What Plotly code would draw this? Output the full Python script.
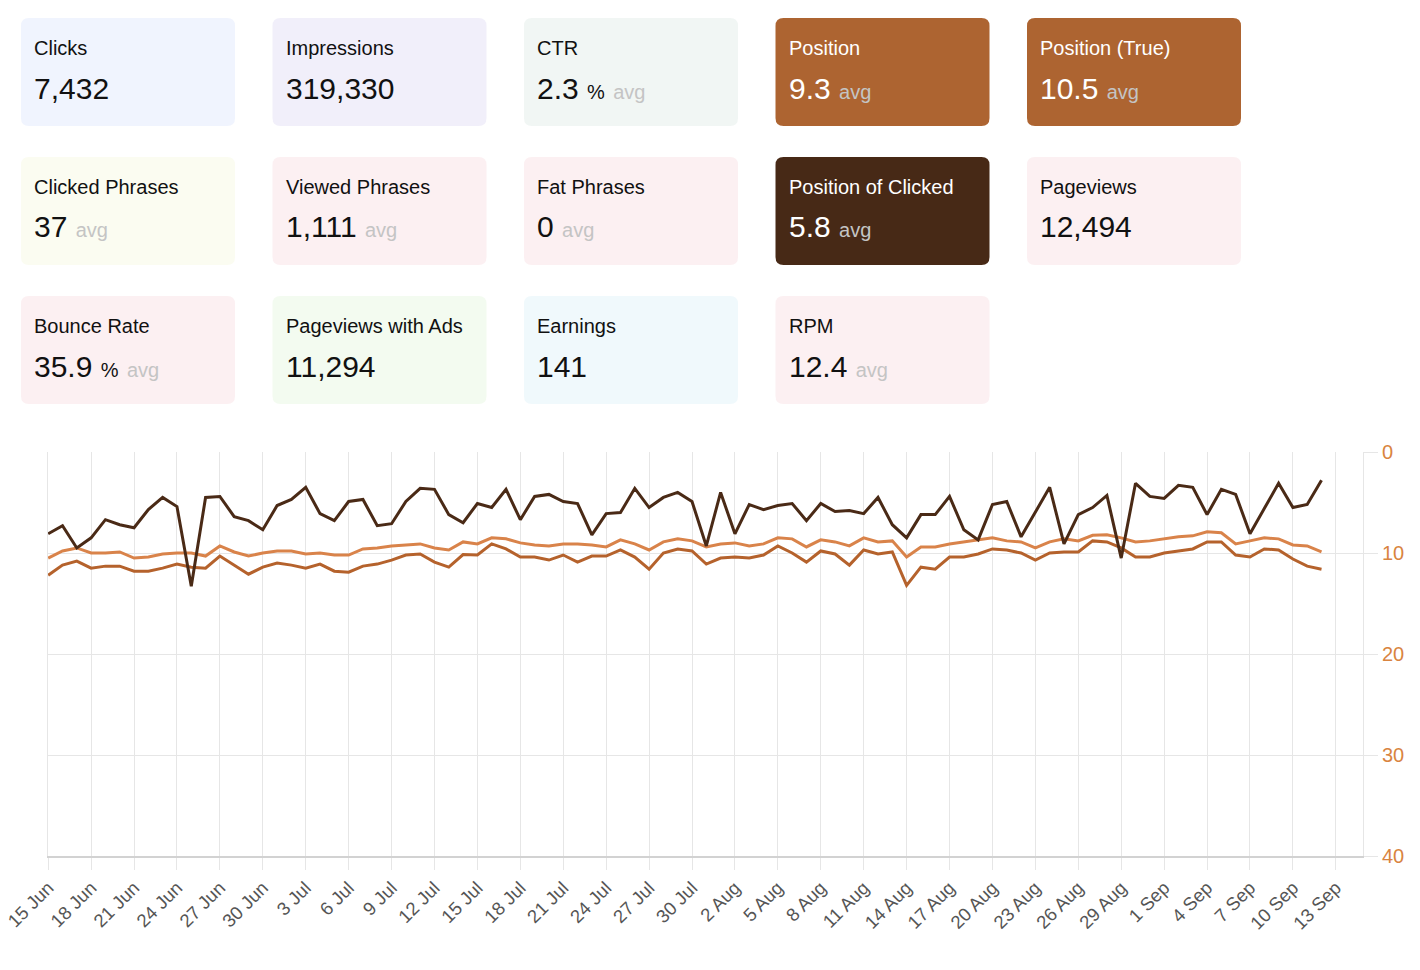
import plotly.graph_objects as go
import pandas as pd

# ---------------- data ----------------
start_date = "2024-06-15"
n_days = 90
position = [10.5, 9.8, 9.5, 10.0, 10.0, 9.9, 10.5, 10.4, 10.1, 10.0,
            10.0, 10.3, 9.3, 9.9, 10.3, 10.0, 9.8, 9.8, 10.1, 10.0,
            10.2, 10.2, 9.6, 9.5, 9.3, 9.2, 9.1, 9.5, 9.7, 8.9,
            9.1, 8.5, 8.6, 9.0, 9.2, 9.3, 9.1, 9.1, 9.2, 9.4,
            8.7, 9.1, 9.7, 8.9, 8.6, 8.8, 9.4, 9.1, 9.0, 9.3,
            9.1, 8.5, 8.6, 9.4, 8.7, 8.9, 9.3, 8.5, 8.9, 8.8,
            10.4, 9.4, 9.4, 9.1, 8.9, 8.7, 8.5, 8.8, 8.9, 9.5,
            8.9, 8.6, 8.8, 8.25, 8.2, 8.5, 8.9, 8.8, 8.6, 8.4,
            8.3, 7.9, 8.0, 9.1, 8.8, 8.5, 8.6, 9.2, 9.3, 9.9]
position_true = [12.2, 11.2, 10.8, 11.5, 11.3, 11.3, 11.8, 11.8, 11.5, 11.1,
                 11.4, 11.5, 10.3, 11.2, 12.1, 11.4, 11.0, 11.2, 11.5, 11.1,
                 11.8, 11.9, 11.3, 11.1, 10.7, 10.2, 10.1, 10.9, 11.4, 10.15,
                 10.2, 9.1, 9.6, 10.4, 10.4, 10.7, 10.2, 10.9, 10.3, 10.3,
                 9.7, 10.4, 11.6, 10.0, 9.6, 9.8, 11.1, 10.5, 10.4, 10.5,
                 10.2, 9.3, 10.0, 10.9, 9.8, 10.1, 11.2, 9.7, 10.1, 9.9,
                 13.2, 11.4, 11.6, 10.4, 10.4, 10.1, 9.6, 9.7, 10.0, 10.7,
                 10.0, 9.9, 9.9, 8.8, 8.9, 9.5, 10.4, 10.4, 10.0, 9.8,
                 9.6, 8.9, 8.9, 10.2, 10.4, 9.6, 9.7, 10.6, 11.3, 11.6]
position_clicked = [8.1, 7.3, 9.5, 8.5, 6.7, 7.2, 7.5, 5.7, 4.5, 5.4,
                    13.3, 4.5, 4.4, 6.4, 6.8, 7.7, 5.3, 4.7, 3.5, 6.1,
                    6.8, 4.9, 4.7, 7.3, 7.1, 4.9, 3.6, 3.7, 6.2, 7.0,
                    5.1, 5.5, 3.7, 6.7, 4.4, 4.2, 4.9, 5.1, 8.2, 6.1,
                    6.0, 3.6, 5.5, 4.5, 4.0, 4.9, 9.3, 4.0, 8.1, 5.2,
                    5.7, 5.3, 5.1, 6.8, 5.1, 5.9, 5.8, 6.1, 4.5, 7.2,
                    8.5, 6.2, 6.2, 4.4, 7.7, 8.7, 5.2, 4.9, 8.4, 5.9,
                    3.5, 9.1, 6.2, 5.5, 4.3, 10.5, 3.1, 4.4, 4.6, 3.3,
                    3.5, 6.2, 3.7, 4.2, 8.1, 5.6, 3.1, 5.5, 5.2, 2.8]
y_ticks = [0, 10, 20, 30, 40]

card_titles = ["Clicks", "Impressions", "CTR", "Position", "Position (True)",
               "Clicked Phrases", "Viewed Phrases", "Fat Phrases", "Position of Clicked", "Pageviews",
               "Bounce Rate", "Pageviews with Ads", "Earnings", "RPM"]
card_values = ["7,432", "319,330", "2.3", "9.3", "10.5",
               "37", "1,111", "0", "5.8", "12,494",
               "35.9", "11,294", "141", "12.4"]
card_units = ["", "", "%", "", "",
              "", "", "", "", "",
              "%", "", "", ""]
card_avg = [False, False, True, True, True,
            True, True, True, True, False,
            True, False, False, True]
card_bg = ["#f0f4fe", "#f1effa", "#f1f6f4", "#ad6431", "#ad6431",
           "#fbfcf1", "#fcf0f2", "#fcf0f2", "#472916", "#fcf0f2",
           "#fcf0f2", "#f3fbf0", "#f0f9fc", "#fcf0f2"]
card_dark = [False, False, False, True, True,
             False, False, False, True, False,
             False, False, False, False]

# ---------------- geometry (page pixels) ----------------
OFF = 0
W, H = 1412, 962
ML, MR, MT, MB = 48, W - 1363, 452, H - 856
PW = W - ML - MR
PH = H - MT - MB


def fx(X):
    return (X - OFF - ML) / PW


def fy(Y):
    return 1 - (Y - OFF - MT) / PH


def rounded(x0, y0, x1, y1, r=8):
    a, b, c, d = fx(x0), fx(x1), fy(y0), fy(y1)
    rx, ry = r / PW, r / PH
    return (f"M {a+rx},{c} L {b-rx},{c} Q {b},{c} {b},{c-ry} L {b},{d+ry} "
            f"Q {b},{d} {b-rx},{d} L {a+rx},{d} Q {a},{d} {a},{d+ry} "
            f"L {a},{c-ry} Q {a},{c} {a+rx},{c} Z")


dates = pd.date_range(start_date, periods=n_days, freq="D")

fig = go.Figure()
fig.add_trace(go.Scatter(x=dates, y=position, mode="lines", name="Position",
                         line=dict(color="#d9834a", width=3)))
fig.add_trace(go.Scatter(x=dates, y=position_true, mode="lines", name="Position (True)",
                         line=dict(color="#b5622c", width=3)))
fig.add_trace(go.Scatter(x=dates, y=position_clicked, mode="lines", name="Position of Clicked",
                         line=dict(color="#4a2a16", width=3)))

col_x = [21, 272.5, 524, 775.5, 1027]
row_y = [18, 157, 296]
CW, CH = 214, 108

shapes = []
annotations = []
for i, title in enumerate(card_titles):
    cx = col_x[i % 5]
    cy = row_y[i // 5]
    shapes.append(dict(type="path", xref="paper", yref="paper", path=rounded(cx, cy, cx + CW, cy + CH),
                       fillcolor=card_bg[i], line=dict(width=0), layer="above"))
    tc = "#ffffff" if card_dark[i] else "#111111"
    annotations.append(dict(x=fx(cx + 11), y=fy(cy + 30), xref="paper", yref="paper",
                            xanchor="left", yanchor="middle", showarrow=False,
                            text=title, font=dict(size=20, color=tc)))
    txt = card_values[i]
    if card_units[i]:
        txt += f" <span style='font-size:20px'>{card_units[i]}</span>"
    if card_avg[i]:
        txt += " <span style='font-size:20px;color:#c4c4c4'>avg</span>"
    annotations.append(dict(x=fx(cx + 11), y=fy(cy + 70), xref="paper", yref="paper",
                            xanchor="left", yanchor="middle", showarrow=False,
                            text=txt, font=dict(size=30, color=tc)))

range_start = dates[0] - pd.Timedelta(minutes=20)
range_end = dates[0] + pd.Timedelta(days=91.9)

fig.update_layout(
    width=W, height=H,
    margin=dict(l=ML, r=MR, t=MT, b=MB, pad=0, autoexpand=False),
    paper_bgcolor="white", plot_bgcolor="white",
    showlegend=False,
    font=dict(family="Liberation Sans, Arial, Helvetica, sans-serif"),
    shapes=shapes, annotations=annotations,
    xaxis=dict(type="date", range=[range_start, range_end], automargin=False,
               tick0=start_date, dtick=3 * 86400000, tickformat="%-d %b",
               tickangle=-45, tickfont=dict(size=18.5, color="#555555"),
               ticklabeloverflow="allow",
               showgrid=True, gridcolor="#e6e6e6", gridwidth=1,
               ticks="outside", ticklen=12, tickcolor="#e6e6e6",
               showline=True, linecolor="#d2d2d2", linewidth=1.5, zeroline=False),
    yaxis=dict(side="right", range=[40, 0], tickvals=y_ticks, automargin=False,
               tickfont=dict(size=20, color="#d9843f"),
               showgrid=True, gridcolor="#e6e6e6", gridwidth=1,
               ticks="outside", ticklen=14, tickcolor="#e6e6e6",
               showline=True, mirror=True, linecolor="#e6e6e6", zeroline=False),
)

fig.write_html("out.html", config={"displayModeBar": False},
               post_script="document.body.style.margin='0px';")
